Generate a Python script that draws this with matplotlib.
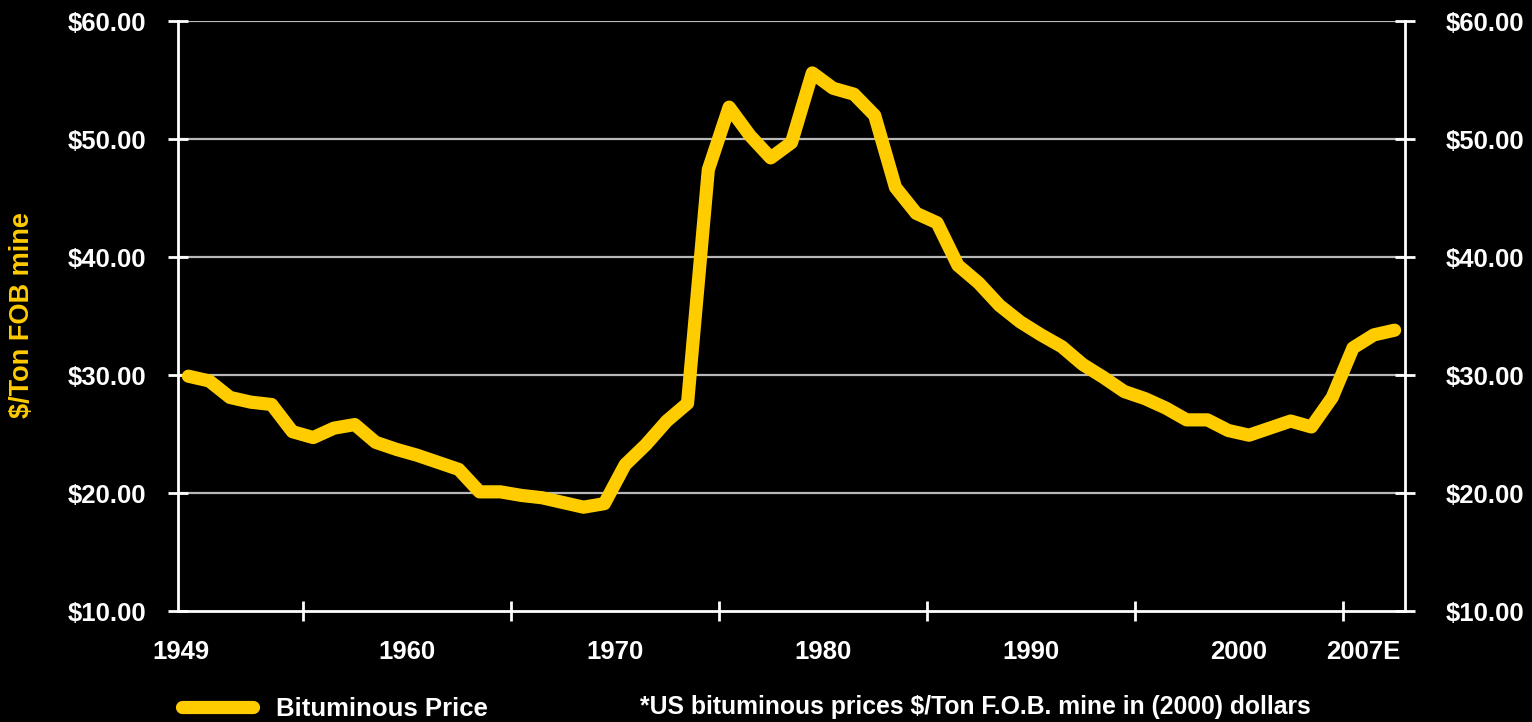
import matplotlib.pyplot as plt
from matplotlib.ticker import FixedLocator

# US bituminous coal price, $/ton FOB mine, in 2000 dollars
years = list(range(1949, 2008))
prices = [
    29.9, 29.5, 28.1, 27.7, 27.5, 25.2, 24.7, 25.5, 25.8, 24.3,
    23.7, 23.2, 22.6, 22.0, 20.1, 20.1, 19.8, 19.6, 19.2, 18.8,
    19.1, 22.4, 24.1, 26.1, 27.6, 47.4, 52.7, 50.3, 48.4, 49.7,
    55.6, 54.3, 53.8, 52.0, 45.9, 43.7, 42.9, 39.3, 37.8, 35.9,
    34.5, 33.4, 32.4, 30.9, 29.8, 28.6, 28.0, 27.2, 26.2, 26.2,
    25.3, 24.9, 25.5, 26.1, 25.6, 28.1, 32.3, 33.4, 33.8,
]

y_ticks = [10, 20, 30, 40, 50, 60]
y_labels = ["$10.00", "$20.00", "$30.00", "$40.00", "$50.00", "$60.00"]

# category-style x axis: labels sit on the boundaries between years
x_label_pos = [1948.65, 1959.5, 1969.5, 1979.5, 1989.5, 1999.5, 2005.5]
x_labels = ["1949", "1960", "1970", "1980", "1990", "2000", "2007E"]
x_tick_marks = [1954.5 + 5 * i for i in range(11)]

yellow = "#FFCC00"
fs = 18.5

plt.rcParams["font.family"] = ["Liberation Sans", "DejaVu Sans"]
plt.rcParams["font.weight"] = "bold"

fig = plt.figure(figsize=(15.32, 7.22), dpi=100, facecolor="black")
ax = fig.add_axes([0.1162, 0.1537, 0.8009, 0.8172], facecolor="black")

ax.plot(years, prices, color=yellow, lw=9.5, solid_joinstyle="round",
        solid_capstyle="round", label="Bituminous Price", zorder=3)

ax.set_xlim(1948.5, 2007.5)
ax.set_ylim(10, 60)

# horizontal grid lines
for v in y_ticks[1:]:
    ax.axhline(v, color="#b8b8b8", lw=1.6, zorder=1)

for side in ["left", "right", "bottom"]:
    ax.spines[side].set_color("white")
    ax.spines[side].set_linewidth(2)
ax.spines["top"].set_visible(False)

ax.set_yticks(y_ticks)
ax.set_yticklabels(y_labels, fontsize=fs, color="white", fontweight="bold")
ax.tick_params(axis="y", direction="inout", length=14, width=2, color="white", pad=16)

ax.xaxis.set_major_locator(FixedLocator(x_label_pos))
ax.set_xticklabels(x_labels, fontsize=fs, color="white", fontweight="bold")
ax.xaxis.set_minor_locator(FixedLocator(x_tick_marks))
ax.tick_params(axis="x", which="major", length=0, pad=21)
ax.tick_params(axis="x", which="minor", direction="inout", length=14, width=2, color="white")

# right hand axis mirrors the left one
ax2 = ax.twinx()
ax2.set_ylim(10, 60)
ax2.set_yticks(y_ticks)
ax2.set_yticklabels(y_labels, fontsize=fs, color="white", fontweight="bold")
ax2.tick_params(axis="y", direction="inout", length=14, width=2, color="white", pad=22)
for s in ax2.spines.values():
    s.set_visible(False)

fig.text(0.0144, 0.5635, "$/Ton FOB mine", rotation=90, color=yellow,
         fontsize=19.5, fontweight="bold", ha="center", va="center")

leg = ax.legend(loc="center left", bbox_to_anchor=(0.104, 0.018),
                bbox_transform=fig.transFigure, frameon=False,
                handlelength=2.75, handletextpad=0.9, fontsize=fs)
for t in leg.get_texts():
    t.set_color("white")

fig.text(0.418, 0.021, "*US bituminous prices $/Ton F.O.B. mine in (2000) dollars",
         color="white", fontsize=17.8, fontweight="bold", ha="left", va="center")

fig.savefig("out.png", dpi=100, facecolor="black")
